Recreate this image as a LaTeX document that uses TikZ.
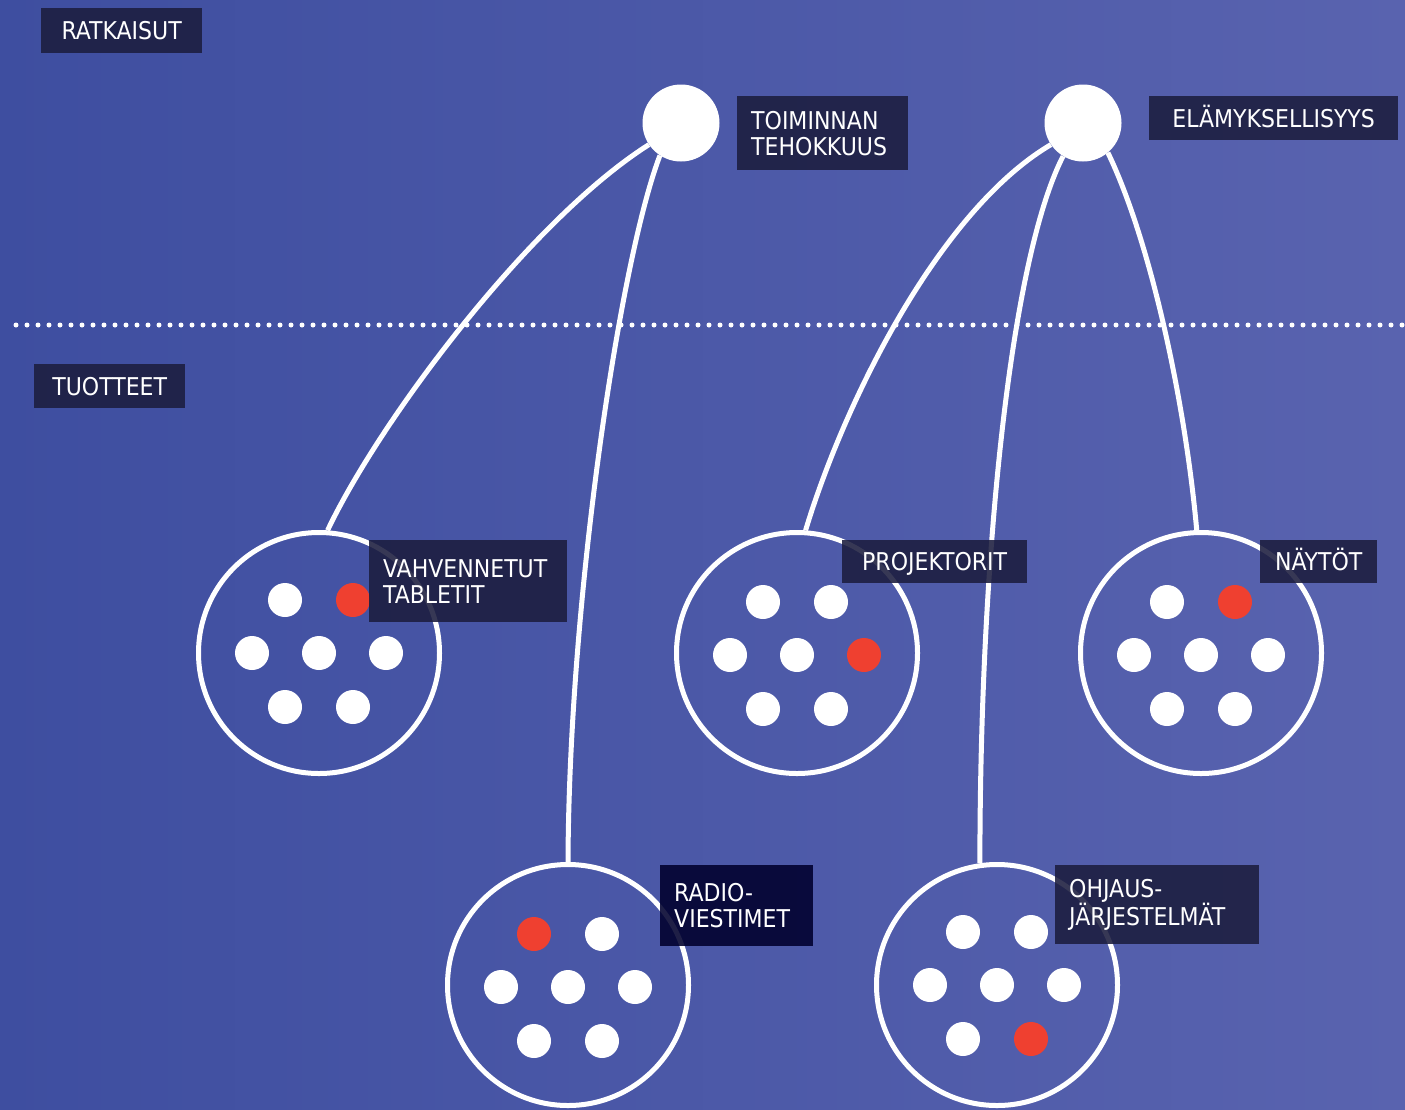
\documentclass[tikz,border=0pt]{standalone}
\usepackage{fontspec}
\setmainfont{DejaVu Sans Condensed}
\definecolor{bgL}{RGB}{62,78,160}
\definecolor{bgR}{RGB}{89,99,175}
\definecolor{lab}{RGB}{28,29,62}
\definecolor{labdark}{RGB}{0,0,45}
\definecolor{dotred}{RGB}{239,64,48}
\newcommand\labfont{\fontsize{24.5}{26}\selectfont}
\newcommand\prodcluster[3]{%
  \foreach \dx/\dy [count=\i] in {-34/-53,34/-53,-67/0,0/0,67/0,-34/54,34/54}{%
    \ifnum\i=#3\relax
      \fill[dotred] (#1+\dx,#2+\dy) circle[radius=17];
    \else
      \fill[white] (#1+\dx,#2+\dy) circle[radius=17];
    \fi
  }}
\tikzset{
  labelbase/.style={fill=lab, fill opacity=0.88, text opacity=1, text=white,
    anchor=north west, inner ysep=0pt, font=\labfont},
  labelbox/.style={labelbase, inner xsep=14pt, align=left},
  oneline/.style={labelbase, inner xsep=0pt, text height=17.9pt, text depth=0pt},
  topdot/.style={circle, fill=white, minimum size=77pt, inner sep=0pt},
  prodring/.style={circle, draw=white, line width=5pt, minimum size=241pt, inner sep=0pt},
  link/.style={draw=white, line width=5pt}
}
\begin{document}
\begin{tikzpicture}[x=1pt,y=-1pt]
\shade[left color=bgL,right color=bgR] (0,0) rectangle (1405,1109);
\useasboundingbox (0,0) rectangle (1405,1109);

% dotted divider
\coordinate (divL) at (16,325);
\coordinate (divR) at (1405,325);
\draw[white, line width=5pt, line cap=round, dash pattern=on 0pt off 11pt] (divL) -- (divR);

% solution dots
\node[topdot] (tt) at (681,123) {};
\node[topdot] (el) at (1083,123) {};

% product rings
\node[prodring] (vt) at (319,653) {};
\node[prodring] (pr) at (797,653) {};
\node[prodring] (na) at (1201,653) {};
\node[prodring] (ra) at (568,985) {};
\node[prodring] (oh) at (997,985) {};

\prodcluster{319}{653}{2}
\prodcluster{797}{655}{5}
\prodcluster{1201}{655}{2}
\prodcluster{568}{987}{1}
\prodcluster{997}{985}{7}

% connectors
\draw[link] (tt.214) .. controls (530,220) and (380,420) .. (vt.86);
\draw[link] (tt.237) .. controls (620,260) and (569,600) .. (ra.90);
\draw[link] (el.214) .. controls (940,210) and (845,400) .. (pr.86);
\draw[link] (el.239) .. controls (1010,260) and (980,560) .. (oh.98);
\draw[link] (el.310) .. controls (1150,240) and (1185,400) .. (na.92);

% labels
\node[oneline, minimum width=161pt, minimum height=45pt] (lratk) at (41,8) {RATKAISUT};
\node[oneline, minimum width=151pt, minimum height=44pt] (ltuot) at (34,364) {TUOTTEET};
\node[labelbox, text width=143pt, minimum height=74pt] (ltt) at (737,96) {TOIMINNAN\\TEHOKKUUS};
\node[oneline, minimum width=249pt, minimum height=44pt] (lel) at (1149,96) {ELÄMYKSELLISYYS};
\node[labelbox, text width=170pt, minimum height=82pt] (lvt) at (369,540) {VAHVENNETUT\\TABLETIT};
\node[oneline, inner xsep=0pt, minimum width=185pt, minimum height=43pt, xshift=-3pt] (lpr) at (845,540) {PROJEKTORIT};
\node[oneline, minimum width=117pt, minimum height=43pt] (lna) at (1260,540) {NÄYTÖT};
\node[labelbox, fill=labdark, text width=125pt, minimum height=81pt] (lra) at (660,865) {RADIO-\\VIESTIMET};
\node[labelbox, text width=176pt, minimum height=79pt] (loh) at (1055,865) {OHJAUS-\\JÄRJESTELMÄT};
\end{tikzpicture}
\end{document}
